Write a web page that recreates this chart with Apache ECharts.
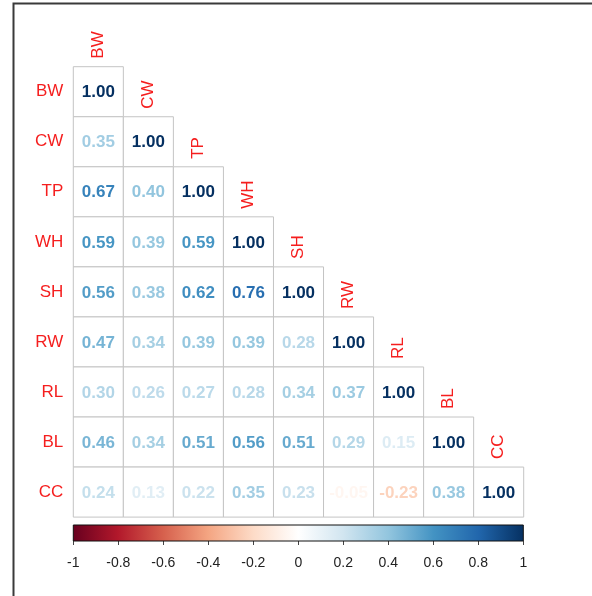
<!DOCTYPE html>
<html>
<head>
<meta charset="utf-8">
<script src="https://cdn.jsdelivr.net/npm/echarts@6/dist/echarts.min.js"></script>
<style>
  html, body { margin: 0; padding: 0; background: #fff; }
  #chart { width: 592px; height: 596px; }
</style>
</head>
<body>
<div id="chart"></div>
<script>
// Trait names, in matrix order
const variables = ['BW', 'CW', 'TP', 'WH', 'SH', 'RW', 'RL', 'BL', 'CC'];

// Lower-triangle correlation coefficients, one row per trait
const corrBW = [1.00];
const corrCW = [0.35, 1.00];
const corrTP = [0.67, 0.40, 1.00];
const corrWH = [0.59, 0.39, 0.59, 1.00];
const corrSH = [0.56, 0.38, 0.62, 0.76, 1.00];
const corrRW = [0.47, 0.34, 0.39, 0.39, 0.28, 1.00];
const corrRL = [0.30, 0.26, 0.27, 0.28, 0.34, 0.37, 1.00];
const corrBL = [0.46, 0.34, 0.51, 0.56, 0.51, 0.29, 0.15, 1.00];
const corrCC = [0.24, 0.13, 0.22, 0.35, 0.23, -0.05, -0.23, 0.38, 1.00];
const corrRows = [corrBW, corrCW, corrTP, corrWH, corrSH, corrRW, corrRL, corrBL, corrCC];

// Colour bar tick labels
const legendTicks = [-1, -0.8, -0.6, -0.4, -0.2, 0, 0.2, 0.4, 0.6, 0.8, 1];

// Diverging red-white-blue palette spanning -1 .. 1
const rdbu = ['#67001F', '#B2182B', '#D6604D', '#F4A582', '#FDDBC7', '#FFFFFF',
              '#D1E5F0', '#92C5DE', '#4393C3', '#2166AC', '#053061'];

function hexToRgb(h) {
  return [parseInt(h.slice(1, 3), 16), parseInt(h.slice(3, 5), 16), parseInt(h.slice(5, 7), 16)];
}
function valueColor(v) {
  const t = Math.max(0, Math.min(1, (v + 1) / 2)) * (rdbu.length - 1);
  const i = Math.min(rdbu.length - 2, Math.floor(t));
  const f = t - i;
  const a = hexToRgb(rdbu[i]), b = hexToRgb(rdbu[i + 1]);
  const c = a.map((x, k) => Math.round(x + (b[k] - x) * f));
  return 'rgb(' + c.join(',') + ')';
}

const cellData = [];
corrRows.forEach((row, r) => {
  row.forEach((v, c) => cellData.push([c, r, v]));
});

const FONT = '"Liberation Sans", Arial, sans-serif';
const tickStep = Math.round((legendTicks[1] - legendTicks[0]) * 10) / 10;

const chart = echarts.init(document.getElementById('chart'));
chart.setOption({
  animation: false,
  backgroundColor: '#fff',
  graphic: [{
    type: 'polyline',
    shape: { points: [[13.5, 596], [13.5, 3.5], [592, 3.5]] },
    style: { stroke: '#3a3a3a', lineWidth: 2, fill: null },
    silent: true
  }],
  grid: [
    { left: 73.3, top: 66.7, width: 450.4, height: 450.4 },
    { left: 73.3, top: 525, width: 450, height: 16 }
  ],
  xAxis: [
    {
      gridIndex: 0, type: 'category', data: variables,
      axisLine: { show: false }, axisTick: { show: false }, axisLabel: { show: false },
      splitLine: { show: false }
    },
    {
      gridIndex: 1, type: 'value',
      min: legendTicks[0], max: legendTicks[legendTicks.length - 1], interval: tickStep,
      axisLine: { show: false },
      axisTick: { show: true, length: 4, lineStyle: { color: '#444', width: 1 } },
      axisLabel: { fontSize: 14, color: '#222', margin: 15, fontFamily: FONT },
      splitLine: { show: false }
    }
  ],
  yAxis: [
    {
      gridIndex: 0, type: 'category', data: variables, inverse: true,
      axisLine: { show: false }, axisTick: { show: false },
      axisLabel: { color: '#f51e1e', fontSize: 17, margin: 10, fontFamily: FONT },
      splitLine: { show: false }
    },
    { gridIndex: 1, type: 'value', min: 0, max: 1, show: false }
  ],
  series: [
    {
      type: 'custom',
      xAxisIndex: 0, yAxisIndex: 0,
      data: cellData,
      renderItem: function (params, api) {
        const c = api.value(0), r = api.value(1), v = api.value(2);
        const p = api.coord([c, r]);
        const s = api.size([1, 1]);
        const x0 = p[0] - s[0] / 2, y0 = p[1] - s[1] / 2;
        const children = [
          {
            type: 'rect',
            shape: { x: x0, y: y0, width: s[0], height: s[1] },
            style: { fill: '#fff', stroke: '#c4c4c4', lineWidth: 1 }
          },
          {
            type: 'text', x: p[0], y: p[1] + 1,
            style: {
              text: v.toFixed(2), fill: valueColor(v),
              font: 'bold 17px ' + FONT, align: 'center', verticalAlign: 'middle'
            }
          }
        ];
        if (c === r) {
          children.push({
            type: 'text', x: p[0], y: y0 - 8, rotation: Math.PI / 2,
            style: {
              text: variables[c], fill: '#f51e1e',
              font: '17px ' + FONT, align: 'left', verticalAlign: 'middle'
            }
          });
        }
        return { type: 'group', children: children };
      }
    },
    {
      type: 'custom',
      xAxisIndex: 1, yAxisIndex: 1,
      data: [[legendTicks[0], legendTicks[legendTicks.length - 1]]],
      renderItem: function (params, api) {
        const p0 = api.coord([api.value(0), 1]);
        const p1 = api.coord([api.value(1), 0]);
        return {
          type: 'rect',
          shape: { x: p0[0], y: p0[1], width: p1[0] - p0[0], height: p1[1] - p0[1] },
          style: {
            fill: {
              type: 'linear', x: 0, y: 0, x2: 1, y2: 0,
              colorStops: rdbu.map((col, i) => ({ offset: i / (rdbu.length - 1), color: col }))
            },
            stroke: '#111', lineWidth: 1
          }
        };
      }
    }
  ]
});
</script>
</body>
</html>
